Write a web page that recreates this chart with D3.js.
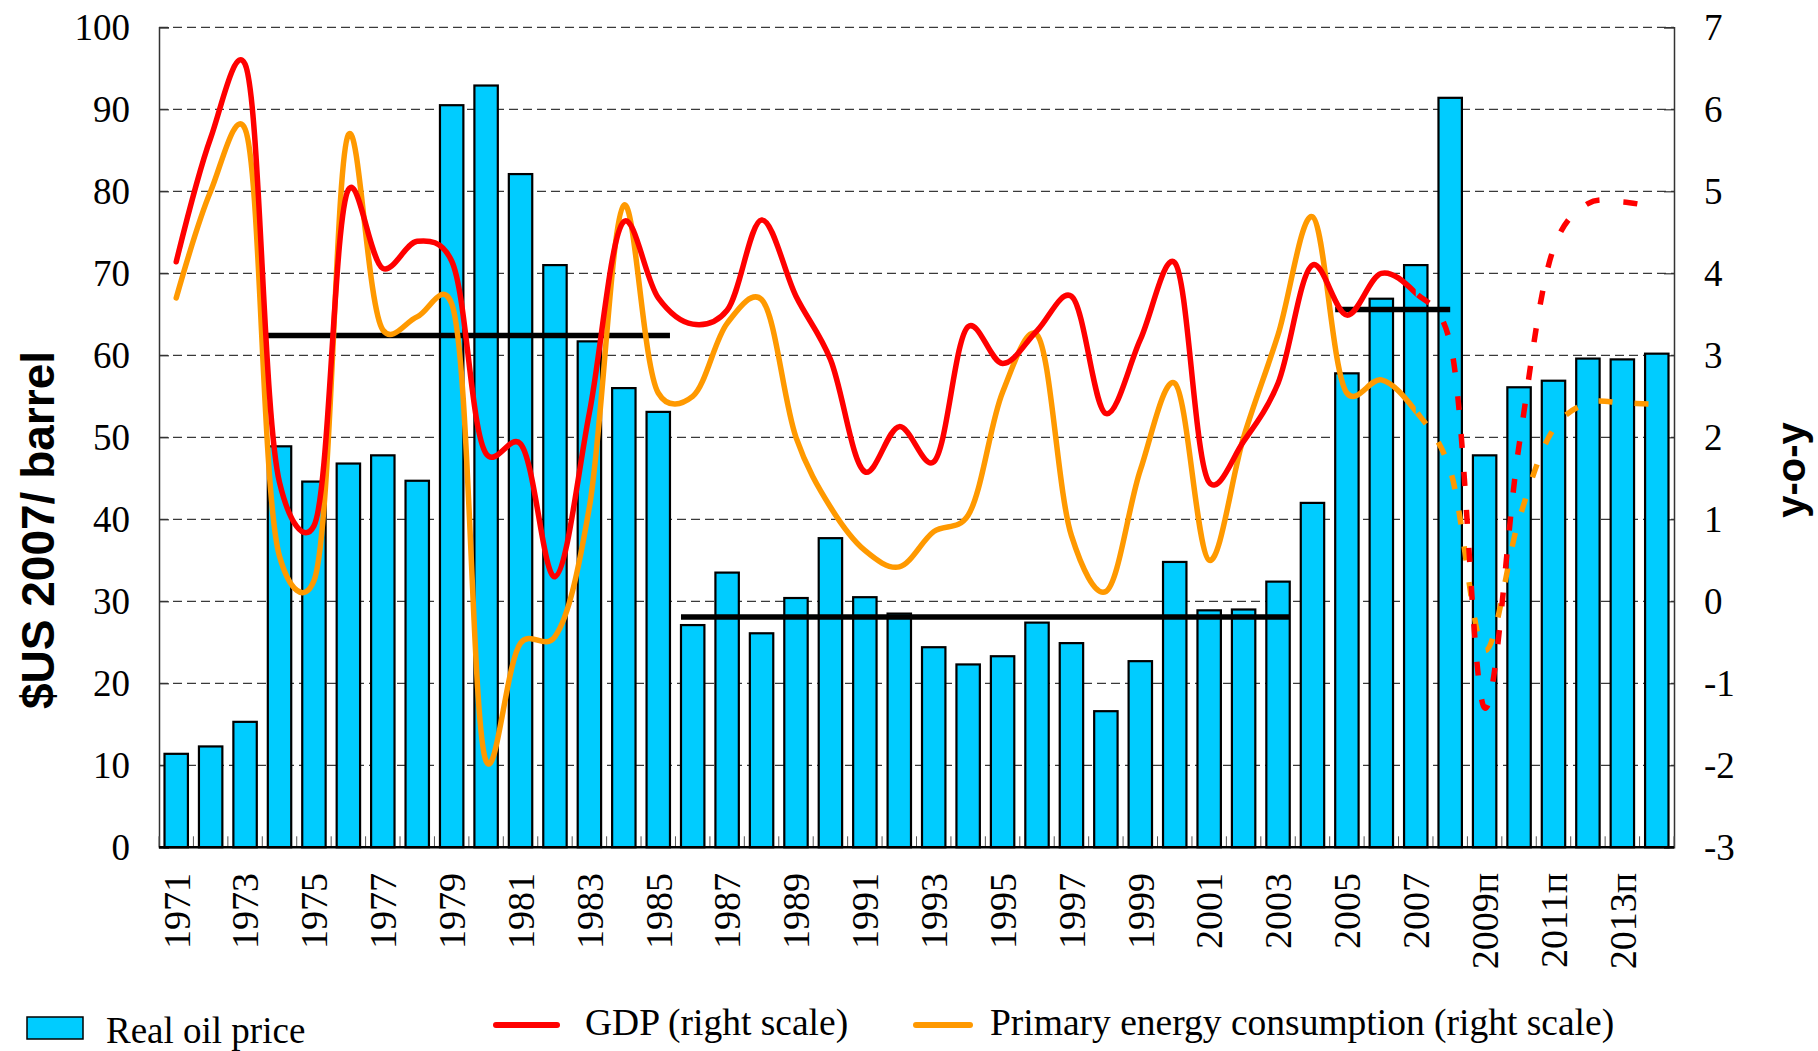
<!DOCTYPE html>
<html><head><meta charset="utf-8">
<script src="https://cdn.jsdelivr.net/npm/d3@7"></script>
<style>body{margin:0;background:#fff}svg{display:block}</style>
</head><body>
<svg id="chart" width="1818" height="1051"></svg>
<script>
// ---------- DATA ----------
const years = ["1971","1972","1973","1974","1975","1976","1977","1978","1979","1980",
  "1981","1982","1983","1984","1985","1986","1987","1988","1989","1990",
  "1991","1992","1993","1994","1995","1996","1997","1998","1999","2000",
  "2001","2002","2003","2004","2005","2006","2007","2008","2009","2010",
  "2011","2012","2013","2014"];
const oilPrice = [11.4,12.3,15.3,48.9,44.6,46.8,47.8,44.7,90.5,92.9,
  82.1,71.0,61.7,56.0,53.1,27.1,33.5,26.1,30.4,37.7,
  30.5,28.5,24.4,22.3,23.3,27.4,24.9,16.6,22.7,34.8,
  28.9,29.0,32.4,42.0,57.8,66.9,71.0,91.4,47.8,56.1,
  56.9,59.6,59.5,60.2];
const gdp = [4.14,5.65,6.55,1.45,0.92,5.02,4.06,4.39,4.15,1.8,
  1.92,0.30,2.3,4.63,3.7,3.38,3.55,4.65,3.72,2.95,
  1.58,2.13,1.70,3.35,2.90,3.30,3.72,2.29,3.19,4.13,
  1.45,1.95,2.66,4.10,3.49,4.00,3.76,3.15,-1.30,1.90,
  4.30,4.85,4.87,4.80];
const energy = [3.70,5.0,5.76,0.55,0.25,5.69,3.31,3.47,3.63,-1.95,
  -0.51,-0.43,1.15,4.83,2.54,2.50,3.39,3.68,2.0,1.15,
  0.62,0.42,0.85,1.05,2.55,3.25,0.8,0.12,1.6,2.66,
  0.50,2.0,3.25,4.69,2.54,2.70,2.32,1.6,-0.6,1.0,
  2.1,2.42,2.42,2.40];
const forecastFrom = "2007";
const leftTicks = [0,10,20,30,40,50,60,70,80,90,100];
const rightTicks = [-3,-2,-1,0,1,2,3,4,5,6,7];
const xTickYears = ["1971","1973","1975","1977","1979","1981","1983","1985","1987","1989",
  "1991","1993","1995","1997","1999","2001","2003","2005","2007","2009","2011","2013"];
const xTickLabels = ["1971","1973","1975","1977","1979","1981","1983","1985","1987","1989",
  "1991","1993","1995","1997","1999","2001","2003","2005","2007","2009п","2011п","2013п"];
const avgFrom = ["1974","1986","2005"];
const avgTo = ["1985","2003","2007"];
const avgValue = [62.4, 28.1, 65.6];
const legendLabels = ["Real oil price","GDP (right scale)","Primary energy consumption (right scale)"];
const yLeftTitle = "$US 2007/ barrel";
const yRightTitle = "y-o-y";

// ---------- LAYOUT ----------
const L = 159, R = 1674, T = 27.3, B = 847.3;
const serif = "'Liberation Serif','Times New Roman',serif";
const sans = "'Liberation Sans',Arial,sans-serif";
const cyan = "#00CCFF", red = "#FF0000", orange = "#FF9900";

const svg = d3.select("#chart");
const x = d3.scaleBand().domain(years).range([L, R]).paddingInner(0.32).paddingOuter(0.16);
const yL = d3.scaleLinear().domain([0, 100]).range([B, T]);
const yR = d3.scaleLinear().domain([-3, 7]).range([B, T]);
const cx = d => x(d) + x.bandwidth() / 2;
const step = x.step();

// gridlines
svg.append("g").selectAll("line").data(leftTicks.filter(t => t > 0)).join("line")
  .attr("x1", L).attr("x2", R).attr("y1", d => yL(d)).attr("y2", d => yL(d))
  .attr("stroke", "#3a3a3a").attr("stroke-width", 1.2).attr("stroke-dasharray", "9,5");

// left axis
const gl = svg.append("g").attr("transform", `translate(${L},0)`)
  .call(d3.axisLeft(yL).tickValues(leftTicks).tickFormat(d => String(d)).tickSize(-10).tickPadding(29));
gl.select(".domain").attr("stroke", "#333").attr("stroke-width", 1.5);
gl.selectAll(".tick line").attr("stroke", "#333").attr("stroke-width", 1.2);
gl.selectAll(".tick text").attr("font-family", serif).attr("font-size", 37).attr("fill", "#000");

// right axis
const gr = svg.append("g").attr("transform", `translate(${R},0)`)
  .call(d3.axisRight(yR).tickValues(rightTicks).tickFormat(d => String(d)).tickSize(-10).tickPadding(30));
gr.select(".domain").attr("stroke", "#333").attr("stroke-width", 1.5);
gr.selectAll(".tick line").attr("stroke", "#333").attr("stroke-width", 1.2);
gr.selectAll(".tick text").attr("font-family", serif).attr("font-size", 37).attr("fill", "#000");

// bars
svg.append("g").selectAll("rect").data(years).join("rect")
  .attr("x", d => x(d)).attr("width", x.bandwidth())
  .attr("y", (d, i) => yL(oilPrice[i])).attr("height", (d, i) => yL(0) - yL(oilPrice[i]))
  .attr("fill", cyan).attr("stroke", "#000").attr("stroke-width", 2.2);

// x-axis minor ticks at band boundaries
svg.append("g").selectAll("line").data(d3.range(years.length + 1)).join("line")
  .attr("x1", i => L + i * step).attr("x2", i => L + i * step)
  .attr("y1", B).attr("y2", B - 11).attr("stroke", "#555").attr("stroke-width", 1);

// bottom axis line
svg.append("line").attr("x1", L).attr("x2", R).attr("y1", B).attr("y2", B)
  .attr("stroke", "#000").attr("stroke-width", 2.5);

// x labels
svg.append("g").selectAll("text").data(xTickYears).join("text")
  .attr("transform", d => `translate(${cx(d)},873) rotate(-90)`)
  .attr("text-anchor", "end").attr("dy", "0.35em")
  .attr("font-family", serif).attr("font-size", 38).attr("fill", "#000")
  .text((d, i) => xTickLabels[i]);

// average lines
svg.append("g").selectAll("line").data(avgValue).join("line")
  .attr("x1", (d, i) => x(avgFrom[i]))
  .attr("x2", (d, i) => i === 2 ? x(avgTo[i]) + step + x.bandwidth() / 2 : x(avgTo[i]) + x.bandwidth())
  .attr("y1", d => yL(d)).attr("y2", d => yL(d))
  .attr("stroke", "#000").attr("stroke-width", 5.5);

// clip paths
const defs = svg.append("defs");
const xs = cx(forecastFrom);
defs.append("clipPath").attr("id", "solidClip").append("rect")
  .attr("x", 0).attr("y", 0).attr("width", xs).attr("height", 1051);
defs.append("clipPath").attr("id", "dashClip").append("rect")
  .attr("x", xs).attr("y", 0).attr("width", 1818 - xs).attr("height", 1051);

const line = d3.line().x((d, i) => cx(years[i])).y(d => yR(d)).curve(d3.curveCatmullRom.alpha(0.25));

function drawSeries(vals, color, dash) {
  const g = svg.append("g");
  const solid = g.append("path").attr("d", line(vals)).attr("fill", "none")
    .attr("stroke", color).attr("stroke-width", 5.5).attr("stroke-linejoin", "round")
    .attr("stroke-linecap", "round")
    .attr("clip-path", "url(#solidClip)");
  const node = solid.node();
  const total = node.getTotalLength();
  let lo = 0, hi = total;
  for (let k = 0; k < 40; k++) {
    const mid = (lo + hi) / 2;
    if (node.getPointAtLength(mid).x < xs) lo = mid; else hi = mid;
  }
  g.append("path").attr("d", line(vals)).attr("fill", "none")
    .attr("stroke", color).attr("stroke-width", 5.5)
    .attr("stroke-dasharray", dash).attr("stroke-dashoffset", -lo)
    .attr("clip-path", "url(#dashClip)");
}
drawSeries(energy, orange, "14,22");
drawSeries(gdp, red, "14,24");

// axis titles
svg.append("text").attr("transform", "translate(54,530) rotate(-90)")
  .attr("text-anchor", "middle").attr("font-family", sans).attr("font-weight", "bold")
  .attr("font-size", 46).attr("fill", "#000").text(yLeftTitle);
svg.append("text").attr("transform", "translate(1805,470) rotate(-90)")
  .attr("text-anchor", "middle").attr("font-family", sans).attr("font-weight", "bold")
  .attr("font-size", 40).attr("fill", "#000").text(yRightTitle);

// legend
const lg = svg.append("g");
lg.append("rect").attr("x", 27).attr("y", 1017).attr("width", 56).attr("height", 22)
  .attr("fill", cyan).attr("stroke", "#000").attr("stroke-width", 1.5);
lg.append("text").attr("x", 106).attr("y", 1043).attr("font-family", serif).attr("font-size", 37)
  .attr("fill", "#000").text(legendLabels[0]);
lg.append("line").attr("x1", 496).attr("x2", 557).attr("y1", 1025).attr("y2", 1025)
  .attr("stroke", red).attr("stroke-width", 6).attr("stroke-linecap", "round");
lg.append("text").attr("x", 585).attr("y", 1035).attr("font-family", serif).attr("font-size", 37.5)
  .attr("fill", "#000").text(legendLabels[1]);
lg.append("line").attr("x1", 916).attr("x2", 970).attr("y1", 1025).attr("y2", 1025)
  .attr("stroke", orange).attr("stroke-width", 6).attr("stroke-linecap", "round");
lg.append("text").attr("x", 990).attr("y", 1035).attr("font-family", serif).attr("font-size", 37.5)
  .attr("fill", "#000").text(legendLabels[2]);
</script>
</body></html>
